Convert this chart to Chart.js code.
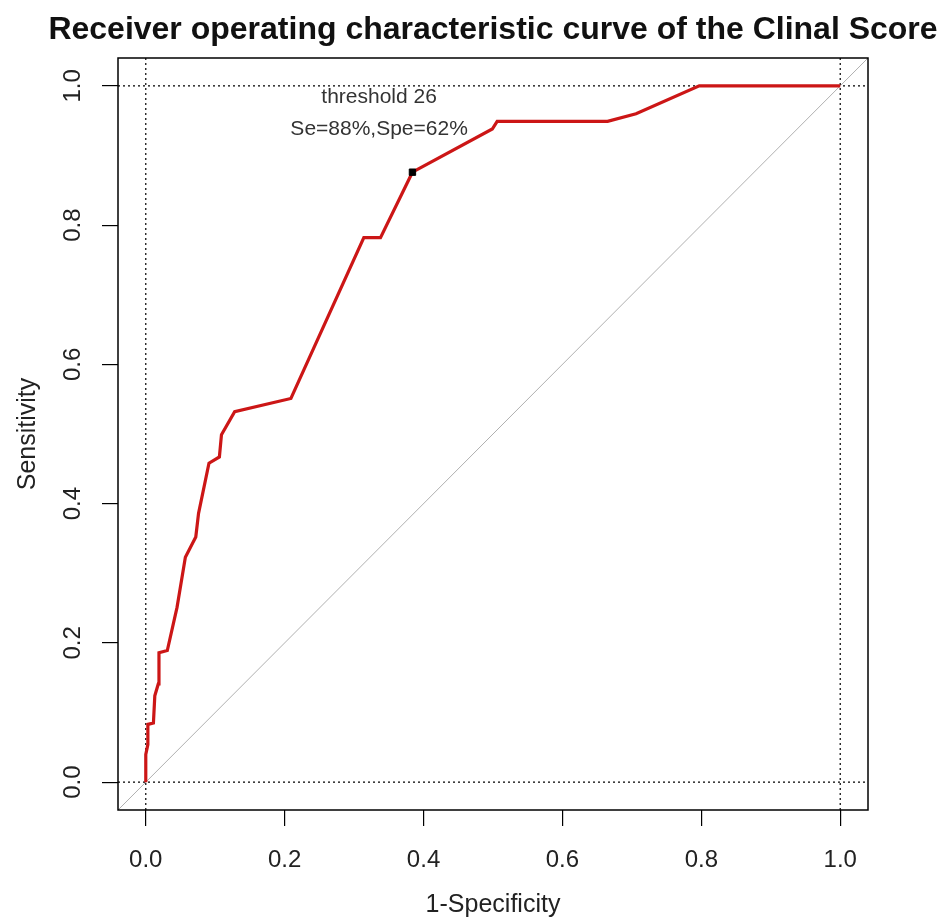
<!DOCTYPE html>
<html>
<head>
<meta charset="utf-8">
<script src="https://cdn.jsdelivr.net/npm/chart.js@4.4.1/dist/chart.umd.min.js"></script>
<style>
  html, body { margin: 0; padding: 0; background: #fff; }
</style>
</head>
<body>
<canvas id="roc" width="941" height="923"></canvas>
<script>
(() => {
  'use strict'

  // ROC curve (1-specificity, sensitivity)
  const fpr = [0, 0, 0.003, 0.003, 0.011, 0.013, 0.018, 0.019, 0.031, 0.045, 0.057, 0.072, 0.076,
    0.091, 0.106, 0.109, 0.128, 0.209, 0.314, 0.338, 0.384, 0.499, 0.506, 0.665, 0.706, 0.797, 1.0]
  const tpr = [0, 0.040, 0.054, 0.083, 0.085, 0.124, 0.141, 0.186, 0.189, 0.251, 0.323, 0.352, 0.386,
    0.458, 0.467, 0.499, 0.532, 0.551, 0.782, 0.782, 0.876, 0.938, 0.949, 0.949, 0.960, 1.0, 1.0]

  // best threshold point
  const cutFpr = 0.384
  const cutTpr = 0.876
  const cutText = ['threshold 26', 'Se=88%,Spe=62%']
  const cutTextX = 0.336
  const cutTextY = [0.984, 0.938]

  const tickVals = [0, 0.2, 0.4, 0.6, 0.8, 1.0]
  const refLines = [0, 1]
  const axisMin = -0.04
  const axisMax = 1.04

  const titleText = 'Receiver operating characteristic curve of the Clinal Score'
  const xTitle = '1-Specificity'
  const yTitle = 'Sensitivity'

  const FONT = "'Liberation Sans', Arial, sans-serif"
  Chart.defaults.font.family = FONT
  Chart.defaults.color = '#222'

  const curve = fpr.map((x, i) => ({ x: x, y: tpr[i] }))

  const dotted = {
    showLine: true,
    borderColor: '#000',
    borderWidth: 1.2,
    borderDash: [2, 3],
    pointRadius: 0,
    order: 5
  }

  const datasets = [
    {
      data: curve,
      showLine: true,
      borderColor: '#cc1616',
      borderWidth: 3.2,
      pointRadius: 0,
      order: 1
    },
    {
      data: [{ x: cutFpr, y: cutTpr }],
      pointStyle: 'rect',
      pointRadius: 4.5,
      backgroundColor: '#000',
      borderColor: '#000',
      order: 0
    },
    {
      data: [{ x: axisMin, y: axisMin }, { x: axisMax, y: axisMax }],
      showLine: true,
      borderColor: '#b0b0b0',
      borderWidth: 1,
      pointRadius: 0,
      order: 6
    }
  ]
  refLines.forEach(v => {
    datasets.push(Object.assign({ data: [{ x: axisMin, y: v }, { x: axisMax, y: v }] }, dotted))
    datasets.push(Object.assign({ data: [{ x: v, y: axisMin }, { x: v, y: axisMax }] }, dotted))
  })

  const setTicks = scale => { scale.ticks = tickVals.map(v => ({ value: v })) }

  // box around the plot, main title and the threshold note
  const decor = {
    id: 'decor',
    afterDraw(chart) {
      const { ctx, chartArea: a, scales } = chart
      ctx.save()
      ctx.strokeStyle = '#000'
      ctx.lineWidth = 1.5
      ctx.strokeRect(a.left, a.top, a.right - a.left, a.bottom - a.top)

      ctx.fillStyle = '#111'
      ctx.textAlign = 'center'
      ctx.textBaseline = 'middle'
      ctx.font = 'bold 32px ' + FONT
      ctx.fillText(titleText, (a.left + a.right) / 2, 30)

      ctx.fillStyle = '#333'
      ctx.font = '21px ' + FONT
      cutText.forEach((t, i) => {
        ctx.fillText(t, scales.x.getPixelForValue(cutTextX), scales.y.getPixelForValue(cutTextY[i]))
      })
      ctx.restore()
    }
  }

  new Chart(document.getElementById('roc'), {
    type: 'scatter',
    data: { datasets: datasets },
    options: {
      responsive: false,
      animation: false,
      devicePixelRatio: 1,
      layout: { padding: { top: 58, right: 73, left: 0, bottom: 0 } },
      plugins: {
        legend: { display: false },
        tooltip: { enabled: false }
      },
      scales: {
        x: {
          type: 'linear',
          min: axisMin,
          max: axisMax,
          afterBuildTicks: setTicks,
          afterFit: s => { s.height = 113 },
          border: { display: false },
          grid: { drawOnChartArea: false, drawTicks: true, tickLength: 16, color: '#000', lineWidth: 1.2 },
          ticks: { padding: 20, font: { size: 24 }, color: '#222', callback: v => v.toFixed(1) },
          title: { display: true, text: xTitle, font: { size: 25 }, color: '#222', padding: { top: 0, bottom: 3 } }
        },
        y: {
          type: 'linear',
          min: axisMin,
          max: axisMax,
          afterBuildTicks: setTicks,
          afterFit: s => { s.width = 118 },
          border: { display: false },
          grid: { drawOnChartArea: false, drawTicks: true, tickLength: 16, color: '#000', lineWidth: 1.2 },
          ticks: {
            padding: 12,
            minRotation: 90,
            maxRotation: 90,
            crossAlign: 'center',
            font: { size: 24 },
            color: '#222',
            callback: v => v.toFixed(1)
          },
          title: { display: true, text: yTitle, font: { size: 25 }, color: '#222', padding: { top: 13, bottom: 0 } }
        }
      }
    },
    plugins: [decor]
  })
})()
</script>
</body>
</html>
